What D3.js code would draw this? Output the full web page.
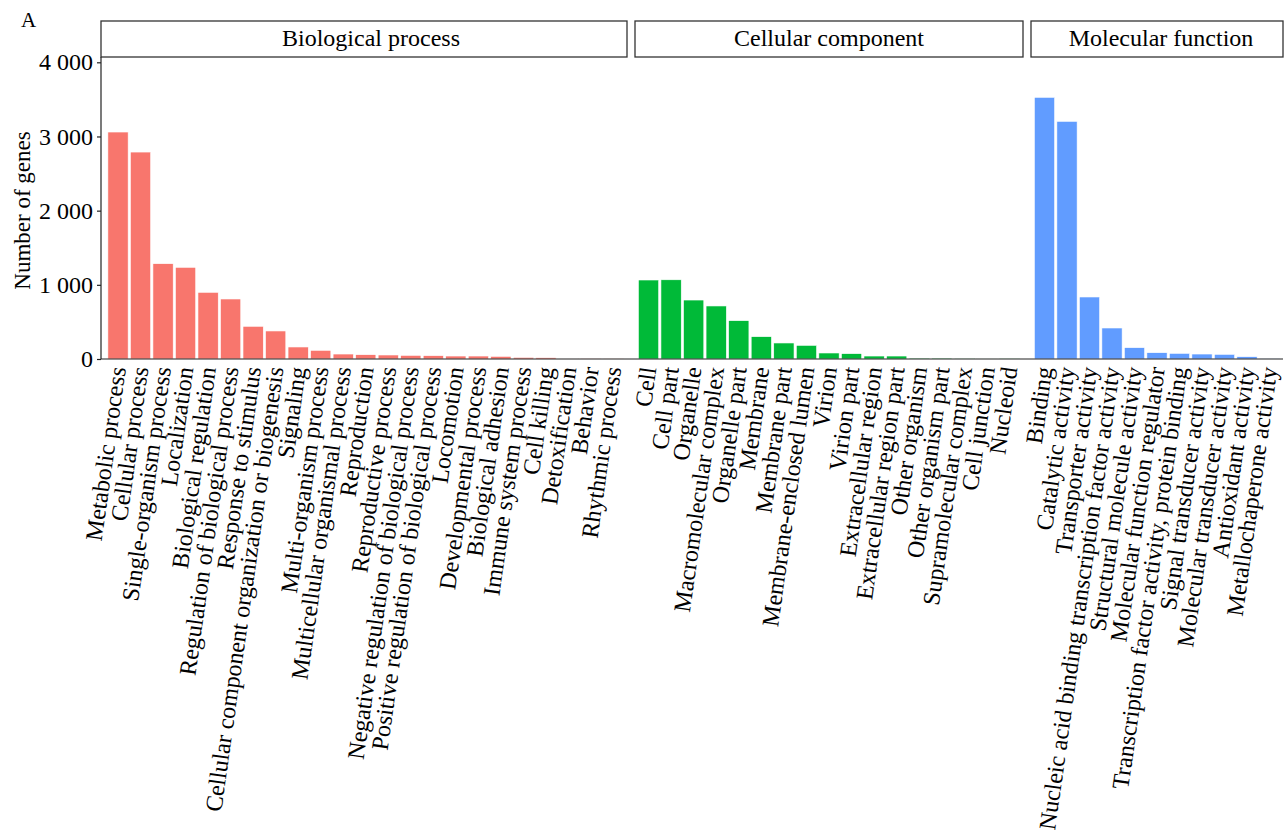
<!DOCTYPE html>
<html>
<head>
<meta charset="utf-8">
<script src="https://cdn.jsdelivr.net/npm/d3@7"></script>
<style>
  html, body { margin: 0; padding: 0; background: #fff; }
  svg { display: block; }
  text { font-family: "Liberation Serif", "DejaVu Serif", serif; fill: #000; }
</style>
</head>
<body>
<svg id="chart" width="1287" height="835"></svg>
<script>
// GO classification: gene counts per term, grouped by ontology
const bpTerms = [
  "Metabolic process", "Cellular process", "Single-organism process", "Localization",
  "Biological regulation", "Regulation of biological process", "Response to stimulus",
  "Cellular component organization or biogenesis", "Signaling", "Multi-organism process",
  "Multicellular organismal process", "Reproduction", "Reproductive process",
  "Negative regulation of biological process", "Positive regulation of biological process",
  "Locomotion", "Developmental process", "Biological adhesion", "Immune system process",
  "Cell killing", "Detoxification", "Behavior", "Rhythmic process"
];
const bpCounts = [3060, 2790, 1285, 1236, 899, 809, 441, 378, 162, 117, 67, 58, 54, 49, 45, 40, 40, 36, 22, 18, 5, 3, 2];

const ccTerms = [
  "Cell", "Cell part", "Organelle", "Macromolecular complex", "Organelle part", "Membrane",
  "Membrane part", "Membrane-enclosed lumen", "Virion", "Virion part", "Extracellular region",
  "Extracellular region part", "Other organism", "Other organism part",
  "Supramolecular complex", "Cell junction", "Nucleoid"
];
const ccCounts = [1065, 1068, 795, 715, 517, 301, 216, 184, 81, 72, 40, 40, 12, 12, 10, 5, 3];

const mfTerms = [
  "Binding", "Catalytic activity", "Transporter activity",
  "Nucleic acid binding transcription factor activity", "Structural molecule activity",
  "Molecular function regulator", "Transcription factor activity, protein binding",
  "Signal transducer activity", "Molecular transducer activity", "Antioxidant activity",
  "Metallochaperone activity"
];
const mfCounts = [3528, 3204, 836, 418, 153, 85, 76, 67, 63, 31, 3];

const facetNames = ["Biological process", "Cellular component", "Molecular function"];
const facetColors = ["#F8766D", "#00BA38", "#619CFF"];
const yTicks = [0, 1000, 2000, 3000, 4000];

const facets = [
  { name: facetNames[0], terms: bpTerms, counts: bpCounts, color: facetColors[0], x0: 104.5, x1: 627, stripX0: 101, textShift: 7 },
  { name: facetNames[1], terms: ccTerms, counts: ccCounts, color: facetColors[1], x0: 635, x1: 1023, stripX0: 635, textShift: 0 },
  { name: facetNames[2], terms: mfTerms, counts: mfCounts, color: facetColors[2], x0: 1031, x1: 1283, stripX0: 1031, textShift: 4 }
];

const svg = d3.select("#chart");
const axisX = 101, panelTop = 57, baseY = 359, stripTop = 21;
const labelAngle = -82;

const y = d3.scaleLinear().domain([0, 4000]).range([baseY, 62.3]);

// panel label
svg.append("text").attr("x", 21).attr("y", 27).attr("font-size", 21).text("A");

facets.forEach(f => {
  const x = d3.scaleBand().domain(f.terms).range([f.x0, f.x1]).paddingInner(0.1).paddingOuter(0.15);
  const g = svg.append("g");

  // strip
  g.append("rect")
    .attr("x", f.stripX0).attr("y", stripTop)
    .attr("width", f.x1 - f.stripX0).attr("height", panelTop - stripTop)
    .attr("fill", "#fff").attr("stroke", "#333").attr("stroke-width", 1.3);
  g.append("text")
    .attr("x", (f.stripX0 + f.x1) / 2 + f.textShift).attr("y", (stripTop + panelTop) / 2 - 1.5)
    .attr("text-anchor", "middle").attr("dominant-baseline", "central")
    .attr("font-size", 24).text(f.name);

  // bars
  g.selectAll("rect.bar").data(f.terms.map((t, i) => ({ t, v: f.counts[i] })))
    .join("rect").attr("class", "bar")
    .attr("x", d => x(d.t)).attr("width", x.bandwidth())
    .attr("y", d => y(d.v)).attr("height", d => baseY - y(d.v))
    .attr("fill", f.color).attr("stroke", "#fff").attr("stroke-width", 0.6);

  // category labels
  g.selectAll("text.cat").data(f.terms)
    .join("text").attr("class", "cat")
    .attr("transform", d => `translate(${x(d) + x.bandwidth() / 2},${baseY + 8}) rotate(${labelAngle})`)
    .attr("text-anchor", "end").attr("dominant-baseline", "central")
    .attr("font-size", 24).text(d => d);
});

// x baseline
svg.append("line").attr("x1", axisX).attr("x2", 1283).attr("y1", baseY).attr("y2", baseY)
  .attr("stroke", "#222").attr("stroke-width", 1.2);

// y axis
const yAxis = d3.axisLeft(y).tickValues(yTicks).tickSize(4).tickPadding(4)
  .tickFormat(d => d3.format(",")(d).replace(/,/g, " "));
const ya = svg.append("g").attr("transform", `translate(${axisX},0)`).call(yAxis);
ya.select(".domain").remove();
ya.selectAll(".tick line").attr("stroke", "#222").attr("stroke-width", 1.2);
ya.selectAll(".tick text").attr("font-size", 24).attr("font-family", "Liberation Serif, serif").attr("fill", "#000");
svg.append("line").attr("x1", axisX).attr("x2", axisX).attr("y1", panelTop).attr("y2", baseY)
  .attr("stroke", "#222").attr("stroke-width", 1.2);

// y title
svg.append("text")
  .attr("transform", `translate(30,${(62 + baseY) / 2}) rotate(-90)`)
  .attr("text-anchor", "middle").attr("font-size", 23).text("Number of genes");
</script>
</body>
</html>
